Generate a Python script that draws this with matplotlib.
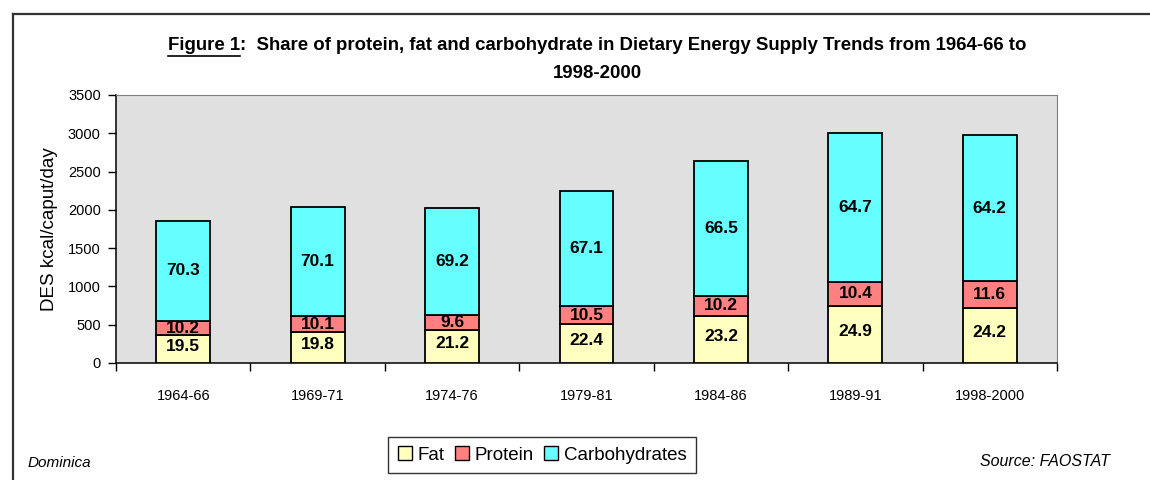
import numpy as np
import matplotlib
matplotlib.use("Agg")
import matplotlib.pyplot as plt
from matplotlib.patches import Patch
from matplotlib.lines import Line2D

plt.rcParams['font.family'] = ['Liberation Sans', 'DejaVu Sans']

periods = ['1964-66', '1969-71', '1974-76', '1979-81', '1984-86', '1989-91', '1998-2000']
total_des = [1858, 2041, 2020, 2246, 2638, 3004, 2978]
fat_pct = [19.5, 19.8, 21.2, 22.4, 23.2, 24.9, 24.2]
protein_pct = [10.2, 10.1, 9.6, 10.5, 10.2, 10.4, 11.6]
carb_pct = [70.3, 70.1, 69.2, 67.1, 66.5, 64.7, 64.2]

col_fat = '#FFFFC0'
col_prot = '#FF8080'
col_carb = '#66FFFF'

W, H = 1150, 480
fig = plt.figure(figsize=(11.5, 4.8), dpi=100)

# outer frame: top and left edges only
fy = 1 - 14/H
fx = 13/W
fig.add_artist(Line2D([fx, 1.0], [fy, fy], color='#333333', lw=1.6, transform=fig.transFigure))
fig.add_artist(Line2D([fx, fx], [0, fy], color='#333333', lw=1.6, transform=fig.transFigure))

ax = fig.add_axes([116/W, 1 - 363/H, (1057-116)/W, (363-95)/H])
ax.set_facecolor('#E0E0E0')

x = np.arange(len(periods))
tot = np.array(total_des, float)
fat = tot * np.array(fat_pct) / 100
prot = tot * np.array(protein_pct) / 100
carb = tot * np.array(carb_pct) / 100
w = 0.40

ax.bar(x, fat, w, color=col_fat, edgecolor='black', lw=1.3, zorder=3)
ax.bar(x, prot, w, bottom=fat, color=col_prot, edgecolor='black', lw=1.3, zorder=3)
ax.bar(x, carb, w, bottom=fat + prot, color=col_carb, edgecolor='black', lw=1.3, zorder=3)

lab_kw = dict(ha='center', va='center', fontsize=12.5, fontweight='bold', zorder=4)
for i in range(len(x)):
    ax.text(x[i], fat[i] / 2 + 40, f'{fat_pct[i]:.1f}', **lab_kw)
    ax.text(x[i], fat[i] + prot[i] / 2, f'{protein_pct[i]:.1f}', **lab_kw)
    ax.text(x[i], fat[i] + prot[i] + carb[i] / 2, f'{carb_pct[i]:.1f}', **lab_kw)

ax.set_xlim(-0.5, len(x) - 0.5)
ax.set_ylim(0, 3500)
ax.set_yticks(np.arange(0, 3501, 500))
ax.tick_params(axis='y', direction='out', length=6, width=1, pad=5, labelsize=10.5)
ax.set_xticks(x)
ax.set_xticklabels(periods)
ax.tick_params(axis='x', which='major', length=0, pad=19, labelsize=10.5)
ax.set_xticks(np.arange(-0.5, len(x)), minor=True)
ax.tick_params(axis='x', which='minor', direction='out', length=6, width=1)
for s in ['top', 'right']:
    ax.spines[s].set_color('#808080')
for s in ['left', 'bottom']:
    ax.spines[s].set_color('black')
    ax.spines[s].set_linewidth(1.1)

ax.set_ylabel('DES kcal/caput/day', fontsize=13.5)
ax.yaxis.set_label_coords(-58/941, 0.5)

# title with underlined "Figure 1"
ty = 1 - 46/H
tsize = 13.4
t1 = fig.text(0, ty, 'Figure 1', fontsize=tsize, fontweight='bold', va='center', ha='left')
t2 = fig.text(0, ty, ':  Share of protein, fat and carbohydrate in Dietary Energy Supply Trends from 1964-66 to',
              fontsize=tsize, fontweight='bold', va='center', ha='left')
fig.canvas.draw()
r = fig.canvas.get_renderer()
w1 = t1.get_window_extent(r).width / W
w2 = t2.get_window_extent(r).width / W
x0 = 597/W - (w1 + w2) / 2
t1.set_x(x0)
t2.set_x(x0 + w1)
fig.canvas.draw()
bb = t1.get_window_extent(r)
uy = (bb.y0 - 1) / H
fig.add_artist(Line2D([bb.x0/W, bb.x1/W], [uy, uy], color='black', lw=1.2,
                      transform=fig.transFigure))
fig.text(597/W, 1 - 73/H, '1998-2000', fontsize=tsize, fontweight='bold', ha='center', va='center')

handles = [Patch(facecolor=col_fat, edgecolor='black', label='Fat'),
           Patch(facecolor=col_prot, edgecolor='black', label='Protein'),
           Patch(facecolor=col_carb, edgecolor='black', label='Carbohydrates')]
leg = fig.legend(handles=handles, ncol=3, loc='center', bbox_to_anchor=(542/W, 1 - 455/H),
                 fontsize=13.5, frameon=True, fancybox=False, edgecolor='black',
                 handlelength=0.75, handleheight=0.75, handletextpad=0.3, columnspacing=0.55,
                 borderpad=0.5)
leg.get_frame().set_linewidth(1.0)

fig.text(28/W, 1 - 463/H, 'Dominica', fontsize=11, style='italic', ha='left', va='center')
fig.text(1110/W, 1 - 461/H, 'Source: FAOSTAT', fontsize=11.5, style='italic', ha='right', va='center')

fig.savefig('out.png', dpi=100)
